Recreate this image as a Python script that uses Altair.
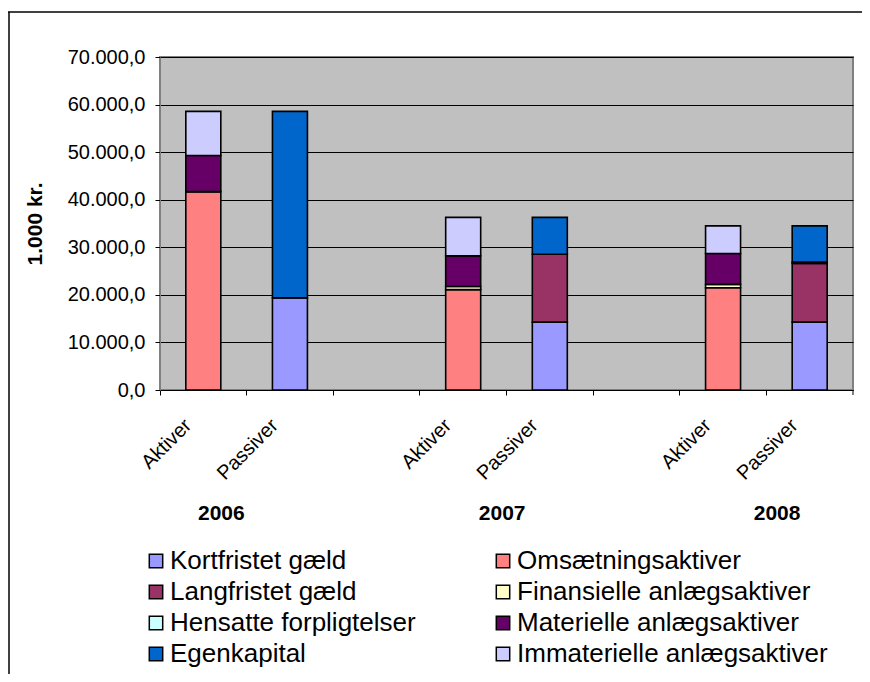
import altair as alt
import pandas as pd

# ---- data ----
years = ["2006", "2007", "2008"]
x_categories = ["2006 Aktiver", "2006 Passiver", "2006 ",
                "2007 Aktiver", "2007 Passiver", "2007 ",
                "2008 Aktiver", "2008 Passiver"]

# legend is filled column by column
legend_order = ["Kortfristet gæld", "Langfristet gæld",
                "Hensatte forpligtelser", "Egenkapital",
                "Omsætningsaktiver", "Finansielle anlægsaktiver",
                "Materielle anlægsaktiver", "Immaterielle anlægsaktiver"]
legend_colors = ["#9999FF", "#993366", "#CCFFFF", "#0066CC",
                 "#FF8080", "#FFFFCC", "#660066", "#CCCCFF"]

aktiver_series = ["Omsætningsaktiver", "Finansielle anlægsaktiver",
                  "Materielle anlægsaktiver", "Immaterielle anlægsaktiver"]
passiver_series = ["Kortfristet gæld", "Langfristet gæld",
                   "Hensatte forpligtelser", "Egenkapital"]

omsaetning = [41700, 21100, 21500]
finansielle = [0, 650, 700]
materielle = [7600, 6440, 6480]
immaterielle = [9280, 8100, 5820]

kortfristet = [19400, 14270, 14270]
langfristet = [0, 14280, 12320]
hensatte = [0, 0, 300]
egenkapital = [39180, 7740, 7610]

y_ticks = [0, 10000, 20000, 30000, 40000, 50000, 60000, 70000]
year_label_dx = [18, 39, 54]

rows = []
for i, y in enumerate(years):
    for k, (s, vals) in enumerate(zip(aktiver_series,
                                      [omsaetning, finansielle, materielle, immaterielle])):
        rows.append({"cat": f"{y} Aktiver", "series": s, "amount": int(vals[i]), "ord": k})
    for k, (s, vals) in enumerate(zip(passiver_series,
                                      [kortfristet, langfristet, hensatte, egenkapital])):
        rows.append({"cat": f"{y} Passiver", "series": s, "amount": int(vals[i]), "ord": k})
df = pd.DataFrame(rows)

W, H = 693, 333
FONT = "Liberation Sans"

xscale = alt.Scale(domain=x_categories, paddingInner=0, paddingOuter=0)

bars = alt.Chart(df).mark_bar(size=35, stroke="black", strokeWidth=1.6).encode(
    x=alt.X("cat:N", scale=xscale, sort=None,
            axis=alt.Axis(title=None, bandPosition=0, labelAngle=315,
                          labelAlign="right", labelBaseline="middle",
                          labelOffset=-15, labelPadding=27, tickSize=5,
                          labelFontSize=20, labelColor="black", labelFont=FONT,
                          domainColor="black", tickColor="black",
                          labelExpr="slice(datum.value, 5)")),
    y=alt.Y("amount:Q", stack="zero",
            scale=alt.Scale(domain=[0, 70000], nice=False),
            axis=alt.Axis(values=y_ticks,
                          grid=True, gridColor="black", gridWidth=1,
                          tickSize=5, tickColor="black", domainColor="#808080",
                          labelFontSize=20, labelColor="black", labelFont=FONT,
                          labelPadding=10,
                          labelExpr="datum.value == 0 ? '0,0' : (datum.value / 1000) + '.000,0'",
                          title="1.000 kr.", titleFontSize=21, titleFont=FONT,
                          titleFontWeight="bold", titleColor="black",
                          titlePadding=22)),
    color=alt.Color("series:N",
                    scale=alt.Scale(domain=legend_order, range=legend_colors),
                    legend=alt.Legend(title=None, orient="none", columns=2,
                                      legendX=-17, legendY=491,
                                      symbolType="square", symbolSize=180,
                                      symbolStrokeColor="black", symbolStrokeWidth=1.5,
                                      labelFontSize=26, labelFont=FONT, labelColor="black",
                                      labelLimit=1000, labelOffset=1,
                                      columnPadding=74, rowPadding=5)),
    order=alt.Order("ord:Q", sort="ascending"),
)

year_layers = []
for i, y in enumerate(years):
    ydf = pd.DataFrame([{"cat": f"{y} Aktiver", "year": y}])
    year_layers.append(
        alt.Chart(ydf).mark_text(fontSize=21, fontWeight="bold", font=FONT,
                                 color="black", baseline="middle", align="center",
                                 dx=year_label_dx[i]).encode(
            x=alt.X("cat:N", scale=xscale, sort=None),
            y=alt.value(H + 124),
            text="year:N",
        )
    )

deco = pd.DataFrame([{"a": 1}])
frame_top = alt.Chart(deco).mark_rule(color="black", strokeWidth=1.5).encode(
    x=alt.value(-152), x2=alt.value(W + 9), y=alt.value(-45))
frame_left = alt.Chart(deco).mark_rule(color="black", strokeWidth=1.5).encode(
    x=alt.value(-151), y=alt.value(-45), y2=alt.value(H + 284))
end_tick = alt.Chart(deco).mark_rule(color="black", strokeWidth=1).encode(
    x=alt.value(W), y=alt.value(H), y2=alt.value(H + 5))

chart = alt.layer(bars, *year_layers, frame_top, frame_left, end_tick).properties(
    width=W, height=H,
    autosize=alt.AutoSizeParams(type="none"),
    padding={"left": 152, "top": 49, "right": 9, "bottom": 284},
    background="white",
).configure(font=FONT).configure_view(
    fill="#C0C0C0", stroke="#808080", strokeWidth=2
)

chart.save("out.html", embed_options={"renderer": "svg", "actions": False})
